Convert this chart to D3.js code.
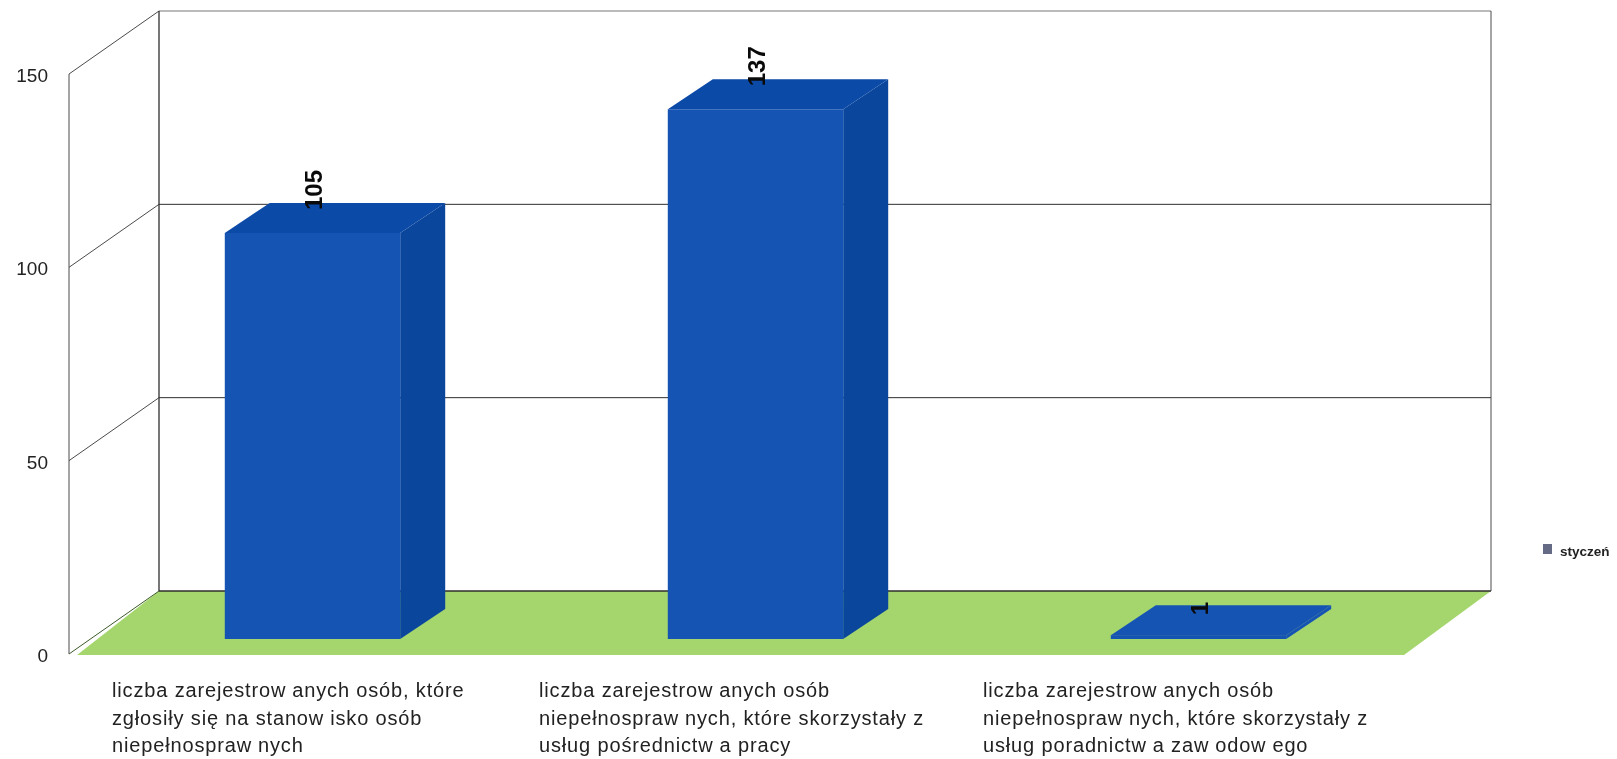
<!DOCTYPE html>
<html>
<head>
<meta charset="utf-8">
<script src="https://cdn.jsdelivr.net/npm/d3@7"></script>
<style>
html,body{margin:0;padding:0;background:#fff;overflow:hidden}
svg{display:block;filter:blur(0.4px)}
text{font-family:"Liberation Sans",Arial,sans-serif}
</style>
</head>
<body>
<svg id="chart" width="1617" height="759"></svg>
<script>
const categories = [
  ["liczba zarejestrowanych osób, które", "zgłosiły się na stanowisko osób", "niepełnosprawnych"],
  ["liczba zarejestrowanych osób", "niepełnosprawnych, które skorzystały z", "usług pośrednictwa pracy"],
  ["liczba zarejestrowanych osób", "niepełnosprawnych, które skorzystały z", "usług poradnictwa zawodowego"]
];
const values = [105, 137, 1];
const tickValues = [0, 50, 100, 150];
const seriesName = "styczeń";

const svg = d3.select("#chart");
const W = {left: 69, right: 1404, floor: 654, top: 74};
const depth = {dx: 90, dy: -63};
const barDepth = {x0: 21, y0: -15, dx: 45, dy: -30};
const catLabelLeft = i => i === 0 ? 112 : 539 + (i - 1) * 444;

const y = d3.scaleLinear().domain([0, 150]).range([W.floor, W.top]);
const x = d3.scaleBand().domain(d3.range(categories.length))
  .range([70, 1399]).paddingInner(0.604).paddingOuter(0.302);

const colors = {floor: "#a5d66e", front: "#1654b4", top: "#0c4aa8", side: "#0a479c", line: "#4a4a4a", lineDark: "#2e2e2e", swatch: "#666b85"};
const poly = pts => pts.map(p => p.join(",")).join(" ");

const backX = W.left + depth.dx, backR = W.right + depth.dx - 3;

// floor
svg.append("polygon").attr("fill", colors.floor).attr("points", poly([
  [W.left + 8, W.floor + 1],
  [backX, W.floor + depth.dy],
  [backR, W.floor + depth.dy],
  [W.right, W.floor + 1]
]));

// walls and gridlines
const grid = svg.append("g").attr("fill", "none");
tickValues.forEach(t => {
  grid.append("line").attr("x1", W.left).attr("y1", y(t)).attr("x2", backX).attr("y2", y(t) + depth.dy)
    .attr("stroke", t === 0 ? "#3c5a2a" : colors.line).attr("stroke-width", 1);
  grid.append("line").attr("x1", backX).attr("y1", y(t) + depth.dy).attr("x2", backR).attr("y2", y(t) + depth.dy)
    .attr("stroke", t === 150 ? "#777" : colors.lineDark).attr("stroke-width", t === 0 ? 1.4 : 1);
});
grid.append("line").attr("x1", W.left).attr("y1", y(150)).attr("x2", W.left).attr("y2", y(0)).attr("stroke", colors.line);
grid.append("line").attr("x1", backX).attr("y1", y(150) + depth.dy).attr("x2", backX).attr("y2", y(0) + depth.dy).attr("stroke", colors.lineDark).attr("stroke-width", 1.3);
grid.append("line").attr("x1", backR).attr("y1", y(150) + depth.dy).attr("x2", backR).attr("y2", y(0) + depth.dy).attr("stroke", colors.line);

// axis
const axis = svg.append("g").attr("transform", `translate(${W.left},1.5)`)
  .call(d3.axisLeft(y).tickValues(tickValues).tickSize(0).tickPadding(21));
axis.select(".domain").remove();
axis.selectAll("text").attr("font-size", 19).attr("fill", "#222").style("font-family", '"Liberation Sans",Arial,sans-serif');

// bars
const bars = svg.append("g").selectAll("g").data(values).join("g");
bars.each(function(v, i) {
  const g = d3.select(this);
  const x0 = x(i) + barDepth.x0, x1 = x0 + x.bandwidth();
  const yb = y(0) + barDepth.y0, yt = y(v) + barDepth.y0;
  const dx = barDepth.dx, dy = barDepth.dy;
  const flat = v < 5;
  g.append("polygon").attr("fill", flat ? colors.front : colors.side).attr("points", poly([[x1, yb], [x1 + dx, yb + dy], [x1 + dx, yt + dy], [x1, yt]]));
  g.append("polygon").attr("fill", flat ? colors.front : colors.top).attr("points", poly([[x0, yt], [x0 + dx, yt + dy], [x1 + dx, yt + dy], [x1, yt]]));
  g.append("rect").attr("fill", colors.front).attr("x", x0).attr("y", yt).attr("width", x1 - x0).attr("height", yb - yt);
});

// value labels
svg.append("g").selectAll("text").data(values).join("text")
  .attr("transform", (v, i) => `translate(${x(i) + barDepth.x0 + x.bandwidth() / 2 + 9},${y(v) + barDepth.y0 - 23 + (v < 5 ? 3 : 0)}) rotate(-90)`)
  .attr("font-size", 24).attr("font-weight", "bold").attr("fill", "#0a0a0a")
  .text(v => v);

// category labels: the scan shows a small gap after each "w" inside a word
const catLabels = svg.append("g").selectAll("text").data(categories).join("text")
  .attr("transform", (c, i) => `translate(${catLabelLeft(i)},697)`)
  .attr("font-size", 20).attr("letter-spacing", 0.85).attr("fill", "#222");
catLabels.each(function(lines) {
  const t = d3.select(this);
  lines.forEach((line, li) => {
    line.split(/(?<=w)(?=[a-zó])/).forEach((frag, fi) => {
      const s = t.append("tspan").text(frag);
      if (fi === 0) s.attr("x", 0).attr("y", li * 27.5);
      else s.attr("dx", 6);
    });
  });
});

// legend
svg.append("rect").attr("x", 1543).attr("y", 544).attr("width", 9).attr("height", 10).attr("fill", colors.swatch);
svg.append("text").attr("x", 1560).attr("y", 556).attr("font-size", 13.5).attr("font-weight", "bold").attr("fill", "#222").text(seriesName);
</script>
</body>
</html>
